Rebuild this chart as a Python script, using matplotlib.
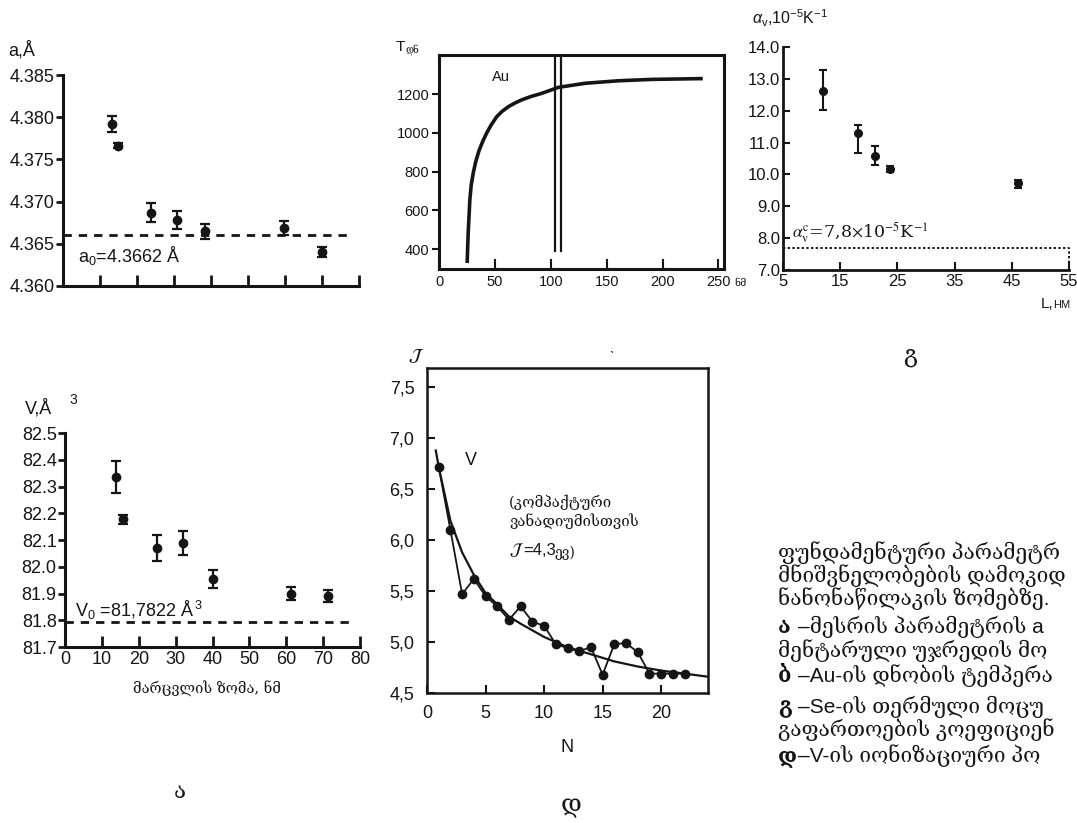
import numpy as np
import matplotlib
matplotlib.use('Agg')
import matplotlib.pyplot as plt

W, H = 1077, 823
plt.rcParams['font.family'] = ['Liberation Sans', 'DejaVu Sans']
plt.rcParams['mathtext.fontset'] = 'custom'
plt.rcParams['mathtext.rm'] = 'Liberation Sans'
plt.rcParams['mathtext.it'] = 'Liberation Sans:italic'
plt.rcParams['mathtext.bf'] = 'Liberation Sans:bold'
INK = '#151515'
GEO = ['DejaVu Serif', 'DejaVu Sans']
MIX = ['Liberation Sans', 'DejaVu Serif', 'DejaVu Sans']

# ---------------- data ----------------
# panel a (top): lattice parameter vs grain size
a_size = [13.2, 14.9, 23.8, 30.8, 38.4, 59.7, 70.0]
a_val = [4.3792, 4.3766, 4.3687, 4.3678, 4.3665, 4.3669, 4.3640]
a_err = [0.0010, 0.0003, 0.0011, 0.0011, 0.0009, 0.0008, 0.0006]
a0_level = 4.3661
a_yticks = [4.360, 4.365, 4.370, 4.375, 4.380, 4.385]
a_xticks = [10, 20, 30, 40, 50, 60, 70, 80]

# panel a (bottom): cell volume vs grain size
v_size = [13.8, 15.6, 24.9, 31.9, 40.0, 61.2, 71.2]
v_val = [82.335, 82.178, 82.071, 82.088, 81.953, 81.900, 81.890]
v_err = [0.059, 0.017, 0.048, 0.045, 0.033, 0.024, 0.022]
v0_level = 81.795
v_yticks = [81.7, 81.8, 81.9, 82.0, 82.1, 82.2, 82.3, 82.4, 82.5]
v_xticks = [0, 10, 20, 30, 40, 50, 60, 70, 80]

# panel b: Au melting temperature vs size
au_d = [25.2, 26.1, 27.6, 28.8, 30.6, 32.8, 35.6, 39.0, 42.6, 46.5, 51.6, 56.5,
        62.1, 68.0, 74.0, 82.0, 92.0, 107.0, 131.0, 161.0, 191.0, 236.0]
au_T = [328, 483, 654, 730, 792, 850, 905, 955, 999, 1040, 1084, 1112,
        1136, 1155, 1171, 1188, 1205, 1236, 1257, 1270, 1277, 1281]
au_marks = [104.0, 109.5]
au_xticks = [0, 50, 100, 150, 200, 250]
au_yticks = [400, 600, 800, 1000, 1200]

# panel g: Se thermal expansion coefficient vs L
se_L = [12.0, 18.1, 21.1, 23.75, 46.1]
se_alpha = [12.62, 11.31, 10.57, 10.17, 9.72]
se_err_lo = [0.60, 0.64, 0.28, 0.10, 0.14]
se_err_hi = [0.65, 0.23, 0.31, 0.11, 0.12]
se_bulk = 7.68
se_xticks = [5, 15, 25, 35, 45, 55]
se_yticks = [7.0, 8.0, 9.0, 10.0, 11.0, 12.0, 13.0, 14.0]

# panel d: V ionization potential vs N
v_N = list(range(1, 23))
v_J = [6.72, 6.10, 5.47, 5.62, 5.45, 5.35, 5.22, 5.35, 5.20, 5.16, 4.98,
       4.94, 4.91, 4.95, 4.68, 4.98, 4.99, 4.90, 4.69, 4.69, 4.69, 4.69]
fit_N = [0.75, 1, 2, 3, 4, 5, 6, 7, 8, 10, 12, 14, 16, 18, 20, 22, 24]
fit_J = [6.88, 6.72, 6.19, 5.88, 5.66, 5.48, 5.37, 5.25, 5.18, 5.05, 4.95,
         4.88, 4.81, 4.76, 4.72, 4.69, 4.66]
d_xticks = [0, 5, 10, 15, 20]
d_yticks = [4.5, 5.0, 5.5, 6.0, 6.5, 7.0, 7.5]

# caption (as far as it is visible in the picture)
caption = [
    ("", "ფუნდამენტური პარამეტრ", 553),
    ("", "მნიშვნელობების დამოკიდ", 576),
    ("", "ნანონაწილაკის ზომებზე.", 599),
    ("ა", "–მესრის პარამეტრის a", 627),
    ("", "მენტარული უჯრედის მო", 651),
    ("ბ", "–Au-ის დნობის ტემპერა", 676),
    ("გ", "–Se-ის თერმული მოცუ", 707),
    ("", "გაფართოების კოეფიციენ", 730),
    ("დ", "–V-ის იონიზაციური პო", 756),
]


def box(l, t, r, b):
    return [l / W, 1 - b / H, (r - l) / W, (b - t) / H]


def fx(px):
    return px / W


def fy(py):
    return 1 - py / H


fig = plt.figure(figsize=(W / 100, H / 100), dpi=100)
fig.patch.set_facecolor('white')

# ---------- panel a top ----------
ax1 = fig.add_axes(box(63, 75, 359, 286))
ax1.set_xlim(0, 80)
ax1.set_ylim(4.360, 4.385)
for s in ['top', 'right']:
    ax1.spines[s].set_visible(False)
for s in ['left', 'bottom']:
    ax1.spines[s].set_linewidth(2.2)
    ax1.spines[s].set_color(INK)
ax1.set_xticks(a_xticks)
ax1.set_xticklabels([])
ax1.tick_params(axis='x', direction='in', length=8, width=2, color=INK)
ax1.set_yticks(a_yticks)
ax1.set_yticklabels([f"{v:.3f}" for v in a_yticks], fontsize=13, color=INK)
ax1.tick_params(axis='y', direction='out', length=5, width=2, pad=1, color=INK)
ax1.errorbar(a_size, a_val, yerr=a_err, fmt='o', color=INK, ms=6,
             capsize=3.5, elinewidth=1.6, capthick=1.6, clip_on=False)
ax1.plot([0, 78.5], [a0_level, a0_level], color=INK, lw=2, dashes=(3, 2.5))
ax1.text(4.0, 4.3636, "a$_0$=4.3662 Å", fontsize=13, color=INK, va='center')
fig.text(fx(8), fy(50), "a,Å", fontsize=13, color=INK, va='center')

# ---------- panel a bottom ----------
ax4 = fig.add_axes(box(65, 433, 360, 647))
ax4.set_xlim(0, 80)
ax4.set_ylim(81.7, 82.5)
for s in ['top', 'right']:
    ax4.spines[s].set_visible(False)
for s in ['left', 'bottom']:
    ax4.spines[s].set_linewidth(2.2)
    ax4.spines[s].set_color(INK)
ax4.set_xticks(v_xticks)
ax4.set_xticklabels([str(v) for v in v_xticks], fontsize=13, color=INK)
ax4.tick_params(axis='x', direction='in', length=8, width=2, pad=3, color=INK)
ax4.set_yticks(v_yticks)
ax4.set_yticklabels([f"{v:.1f}" for v in v_yticks], fontsize=13, color=INK)
ax4.tick_params(axis='y', direction='out', length=5, width=2, pad=1, color=INK)
ax4.errorbar(v_size, v_val, yerr=v_err, fmt='o', color=INK, ms=6,
             capsize=3.5, elinewidth=1.6, capthick=1.6)
ax4.plot([0, 78.5], [v0_level, v0_level], color=INK, lw=2, dashes=(3, 2.5))
ax4.text(2.8, 81.838, "V$_0$ =81,7822 Å$^{\\,3}$", fontsize=13, color=INK, va='center')
fig.text(fx(25), fy(408), "V,Å", fontsize=13, color=INK, va='center')
fig.text(fx(69), fy(400), "3", fontsize=10, color=INK, va='center')
fig.text(fx(207), fy(689), "მარცვლის ზომა, ნმ", fontsize=10.5, color=INK,
         ha='center', va='center', family=GEO)

# ---------- panel b ----------
ax2 = fig.add_axes(box(439, 55, 724, 269))
ax2.set_xlim(0, 255)
ax2.set_ylim(297, 1403)
for s in ax2.spines.values():
    s.set_linewidth(2.2)
    s.set_color(INK)
ax2.set_xticks(au_xticks)
ax2.set_xticklabels([str(v) for v in au_xticks], fontsize=10.5, color=INK)
ax2.tick_params(axis='x', direction='in', length=7, width=1.5, pad=4, color=INK)
ax2.set_yticks(au_yticks)
ax2.set_yticklabels([str(v) for v in au_yticks], fontsize=10.5, color=INK)
ax2.tick_params(axis='y', direction='out', length=5, width=1.5, pad=2, color=INK)
ax2.plot(au_d, au_T, color=INK, lw=2.6, solid_capstyle='butt', solid_joinstyle='round')
for xm in au_marks:
    ax2.plot([xm, xm], [388, 1403], color=INK, lw=1.6)
ax2.text(47, 1290, "Au", fontsize=10.5, color=INK, va='center')
fig.text(fx(396), fy(47), "T", fontsize=11, color=INK, va='center')
fig.text(fx(405), fy(50), "დნ", fontsize=7, color=INK, va='center', family=GEO)
fig.text(fx(734), fy(283), "ნმ", fontsize=7.5, color=INK, va='center', family=GEO)
fig.text(fx(612), fy(346), "ˎ", fontsize=10, color=INK, ha='center', va='center')

# ---------- panel g ----------
ax3 = fig.add_axes(box(783, 47, 1069, 270))
ax3.set_xlim(5, 55)
ax3.set_ylim(7, 14)
for s in ['top', 'right']:
    ax3.spines[s].set_visible(False)
for s in ['left', 'bottom']:
    ax3.spines[s].set_linewidth(2.0)
    ax3.spines[s].set_color(INK)
ax3.set_xticks(se_xticks)
ax3.set_xticklabels([str(v) for v in se_xticks], fontsize=12, color=INK)
ax3.tick_params(axis='x', direction='in', length=6, width=1.5, pad=3, color=INK)
ax3.set_yticks(se_yticks)
ax3.set_yticklabels([f"{v:.1f}" for v in se_yticks], fontsize=12, color=INK)
ax3.tick_params(axis='y', direction='in', length=5, width=1.5, pad=2, color=INK)
ax3.errorbar(se_L, se_alpha, yerr=[se_err_lo, se_err_hi], fmt='o', color=INK,
             ms=5.5, capsize=3, elinewidth=1.5, capthick=1.5)
ax3.plot([5, 55, 55], [se_bulk, se_bulk, 7.0], color=INK, lw=1.4,
         linestyle=(0, (1.2, 1.2)), clip_on=False)
ax3.text(6.6, 8.17, "$\\alpha^{\\mathrm{c}}_{\\mathrm{v}}$=7,8$\\times$10$^{-5}$K$^{-1}$",
         fontsize=12.5, color=INK, va='center', math_fontfamily='stix',
         family='DejaVu Serif')
fig.text(fx(752), fy(18), "$\\alpha_{\\mathrm{v}}$,10$^{-5}$K$^{-1}$", fontsize=11.5,
         color=INK, va='center')
fig.text(fx(1041), fy(304), "L,", fontsize=11, color=INK, va='center')
fig.text(fx(1053), fy(305), "НМ", fontsize=8, color=INK, va='center')

# ---------- panel d ----------
ax5 = fig.add_axes(box(427, 368, 708, 693))
ax5.set_xlim(0, 24)
ax5.set_ylim(4.51, 7.69)
for s in ax5.spines.values():
    s.set_linewidth(1.8)
    s.set_color(INK)
ax5.set_xticks(d_xticks)
ax5.set_xticklabels([str(v) for v in d_xticks], fontsize=13, color=INK)
ax5.tick_params(axis='x', direction='in', length=6, width=1.5, pad=9, color=INK)
ax5.set_yticks(d_yticks)
ax5.set_yticklabels([f"{v:.1f}".replace('.', ',') for v in d_yticks], fontsize=13, color=INK)
ax5.tick_params(axis='y', direction='in', length=6, width=1.5, pad=9, color=INK)
ax5.plot(fit_N, fit_J, color=INK, lw=1.6)
ax5.plot(v_N, v_J, '-o', color=INK, lw=1.3, ms=6)
ax5.text(3.2, 6.78, "V", fontsize=13, color=INK, va='center')
ax5.text(7.0, 6.45, "(კომპაქტური\nვანადიუმისთვის", fontsize=10.8, color=INK,
         va='top', family=GEO, linespacing=1.25)
ax5.text(7.0, 5.90, "$\\mathcal{J}$", fontsize=12, color=INK, va='center',
         math_fontfamily='stix')
ax5.text(8.2, 5.90, "=4,3", fontsize=12, color=INK, va='center')
ax5.text(10.9, 5.88, "ევ)", fontsize=10, color=INK, va='center', family=GEO)
fig.text(fx(408), fy(356), "$\\mathcal{J}$", fontsize=13, color=INK, va='center',
         math_fontfamily='stix')
fig.text(fx(567), fy(747), "N", fontsize=13, color=INK, ha='center', va='center')

# ---------- panel labels ----------
fig.text(fx(180), fy(792), "ა", fontsize=16, color=INK, ha='center', va='center', family=GEO)
fig.text(fx(571), fy(807), "დ", fontsize=18, color=INK, ha='center', va='center', family=GEO)
fig.text(fx(910), fy(355), "გ", fontsize=17, color=INK, ha='center', va='center', family=GEO)

# ---------- caption ----------
for lab, txt, y in caption:
    if lab:
        fig.text(fx(778), fy(y), lab, fontsize=15.5, color=INK, va='center',
                 family=GEO, fontweight='bold')
        fig.text(fx(798), fy(y), txt, fontsize=15, color=INK, va='center', family=MIX)
    else:
        fig.text(fx(778), fy(y), txt, fontsize=15, color=INK, va='center', family=MIX)

fig.savefig('out.png', dpi=100, facecolor='white')
